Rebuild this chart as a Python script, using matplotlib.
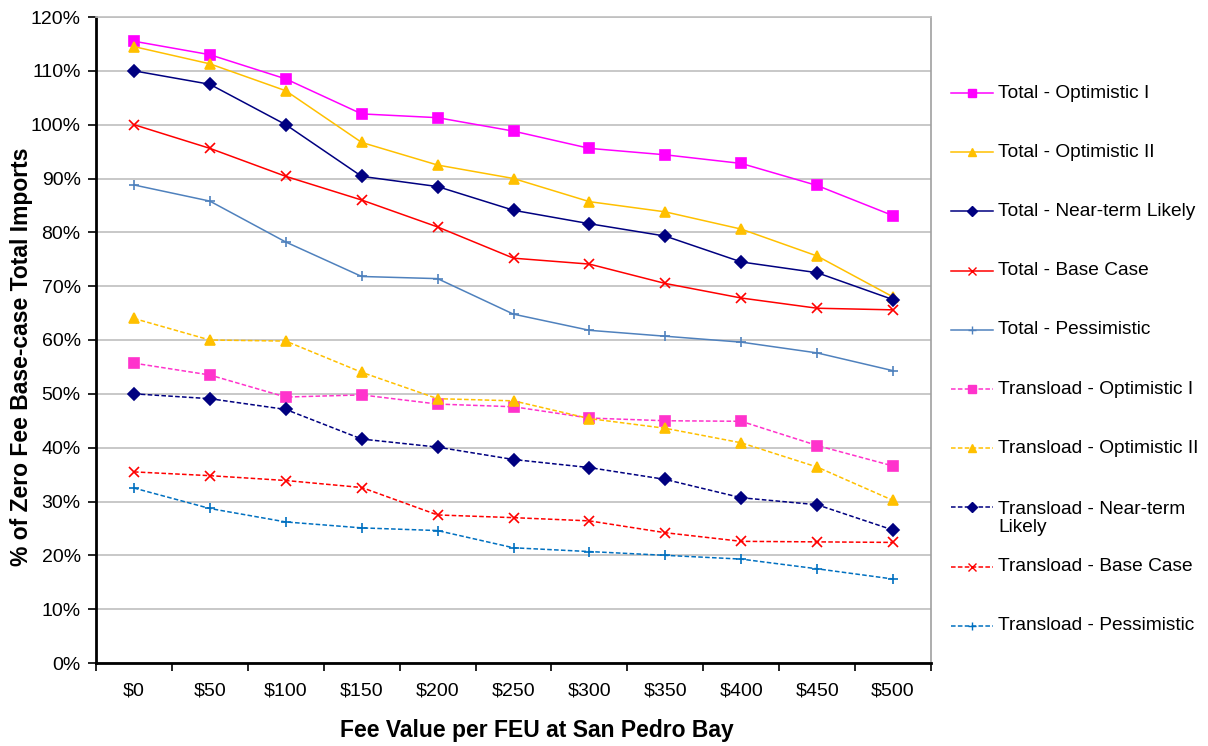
import matplotlib
matplotlib.use("Agg")
import matplotlib.pyplot as plt
from matplotlib.lines import Line2D
from matplotlib.ticker import FixedLocator, PercentFormatter

plt.rcParams['font.family'] = ['Liberation Sans', 'DejaVu Sans']

fees = ["$0", "$50", "$100", "$150", "$200", "$250", "$300", "$350", "$400", "$450", "$500"]

total_opt1 = [115.5, 113.0, 108.5, 102.0, 101.3, 98.8, 95.6, 94.4, 92.8, 88.7, 83.1]
total_opt2 = [114.5, 111.3, 106.3, 96.7, 92.5, 90.0, 85.7, 83.8, 80.6, 75.6, 68.0]
total_ntl = [110.0, 107.5, 100.0, 90.4, 88.5, 84.1, 81.6, 79.3, 74.5, 72.5, 67.5]
total_base = [100.0, 95.6, 90.4, 86.0, 81.0, 75.2, 74.1, 70.5, 67.8, 65.9, 65.6]
total_pess = [88.8, 85.8, 78.2, 71.8, 71.4, 64.8, 61.8, 60.7, 59.6, 57.6, 54.3]

trans_opt1 = [55.7, 53.5, 49.4, 49.8, 48.1, 47.6, 45.5, 45.0, 44.9, 40.4, 36.6]
trans_opt2 = [64.0, 60.0, 59.8, 54.0, 49.1, 48.7, 45.4, 43.6, 40.9, 36.4, 30.2]
trans_ntl = [50.0, 49.1, 47.1, 41.6, 40.1, 37.8, 36.3, 34.1, 30.7, 29.4, 24.7]
trans_base = [35.5, 34.8, 33.9, 32.6, 27.5, 27.0, 26.4, 24.2, 22.6, 22.5, 22.4]
trans_pess = [32.5, 28.7, 26.2, 25.1, 24.6, 21.4, 20.7, 20.0, 19.3, 17.5, 15.6]

labels = ["Total - Optimistic I", "Total - Optimistic II", "Total - Near-term Likely",
          "Total - Base Case", "Total - Pessimistic",
          "Transload - Optimistic I", "Transload - Optimistic II",
          "Transload - Near-term\nLikely", "Transload - Base Case", "Transload - Pessimistic"]

# (values, color, marker, markersize, dashed)
series = [
    (total_opt1, "#FF00FF", "s", 7, False),
    (total_opt2, "#FFC000", "^", 7.5, False),
    (total_ntl, "#000080", "D", 6, False),
    (total_base, "#FF0000", "x", 6.5, False),
    (total_pess, "#4F81BD", "+", 7, False),
    (trans_opt1, "#FF33CC", "s", 7, True),
    (trans_opt2, "#FFC000", "^", 7.5, True),
    (trans_ntl, "#000080", "D", 6, True),
    (trans_base, "#FF0000", "x", 6.5, True),
    (trans_pess, "#0070C0", "+", 7, True),
]

W, H = 1208, 746
fig = plt.figure(figsize=(W / 100, H / 100), dpi=100)
ax = fig.add_axes([96 / W, 83 / H, (931 - 96) / W, (663 - 17) / H])

x = list(range(len(fees)))
dash = (0, (3, 1.5))
for (vals, color, mk, ms, dashed), lab in zip(series, labels):
    ax.plot(x, vals, color=color, lw=1.1, ls=dash if dashed else "-",
            marker=mk, ms=ms, mew=1.2, zorder=3)

ax.set_xlim(-0.5, len(fees) - 0.5)
ax.set_ylim(0, 120)
ax.set_yticks(range(0, 121, 10))
ax.yaxis.set_major_formatter(PercentFormatter(decimals=0))
ax.set_xticks(x)
ax.set_xticklabels(fees)
ax.xaxis.set_minor_locator(FixedLocator([i - 0.5 for i in range(len(fees) + 1)]))
ax.tick_params(axis="x", which="major", length=0, pad=14, labelsize=14)
ax.tick_params(axis="x", which="minor", length=6, width=1.2, direction="out")
ax.tick_params(axis="y", length=6, width=1.2, direction="out", pad=5, labelsize=14)

ax.grid(axis="y", color="#BFBFBF", lw=1.2, zorder=0)
for side in ["left", "bottom"]:
    ax.spines[side].set_linewidth(2)
    ax.spines[side].set_color("black")
ax.spines["top"].set_color("#BFBFBF")
ax.spines["top"].set_linewidth(1.2)
ax.spines["right"].set_color("#A0A0A0")
ax.spines["right"].set_linewidth(1.2)

fig.text(537 / W, 1 - 730 / H, "Fee Value per FEU at San Pedro Bay", ha="center", va="center",
         fontsize=16.5, fontweight="bold")
fig.text(22 / W, 1 - 357 / H, "% of Zero Fee Base-case Total Imports", ha="center", va="center",
         rotation=90, fontsize=16.5, fontweight="bold")

# legend drawn to the right, evenly spaced like the original
for i, ((vals, color, mk, ms, dashed), lab) in enumerate(zip(series, labels)):
    yc = 1 - (93 + 59.2 * i) / H
    ln = Line2D([951 / W, 993 / W], [yc, yc], transform=fig.transFigure, color=color, lw=1.1,
                ls=dash if dashed else "-")
    fig.add_artist(ln)
    mkr = Line2D([972 / W], [yc], transform=fig.transFigure, color=color, marker=mk,
                 ms=ms * 0.8, mew=1.0, ls="none")
    fig.add_artist(mkr)
    ty = yc
    if "\n" in lab:
        ty = yc - 11 / H
    fig.text(998 / W, ty, lab, ha="left", va="center", fontsize=13.8, linespacing=1.1)

fig.savefig("out.png", dpi=100)
